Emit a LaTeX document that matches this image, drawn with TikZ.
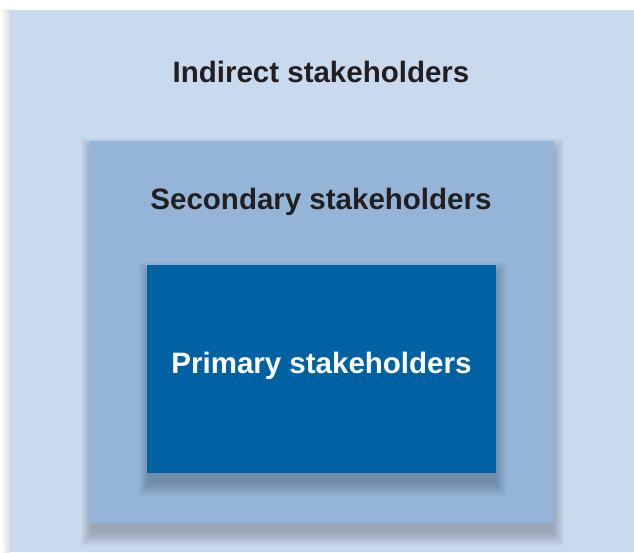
\documentclass[tikz,border=0pt]{standalone}
\usepackage{fontspec}
\setmainfont{Liberation Sans}
\usetikzlibrary{fit}
\definecolor{indirectblue}{HTML}{C9D9EE}
\definecolor{secondblue}{HTML}{94B4D8}
\definecolor{primeblue}{HTML}{0061A3}
\definecolor{labelgrey}{HTML}{231F20}
\tikzset{
  layerbox/.style={draw=none,inner sep=0pt},
  softshade/.style={black,opacity=0.015},
  layertext/.style={font=\fontsize{29.5}{32}\selectfont\bfseries,text=labelgrey}
}
\begin{document}
\begin{tikzpicture}[x=1pt,y=1pt]
		\useasboundingbox (0,0) rectangle (634,552);
		
		\shade[left color=white,right color=gray!22] (0,0) rectangle (9,542);
		\fill[indirectblue] (9,0) rectangle (634,542);
		
		\coordinate (secsw) at (89,29);
		\coordinate (secne) at (554,411);
		\coordinate (primsw) at (147,79);
		\coordinate (primne) at (496,287);
		
		% soft shadows, drawn before each box
		\foreach \r in {1,...,14}
			\fill[softshade] ([shift={(3-0.8*\r,-9-\r)}]secsw) rectangle ([shift={(-1+0.8*\r,-11+\r)}]secne);
		\node[layerbox,fill=secondblue,fit=(secsw)(secne)] (secondary) {};
		
		\foreach \r in {1,...,14}
			\fill[softshade] ([shift={(3-0.8*\r,-9-\r)}]primsw) rectangle ([shift={(-1+0.8*\r,-11+\r)}]primne);
		\node[layerbox,fill=primeblue,fit=(primsw)(primne)] (primary) {};
		
		\node[layertext] (indirectlbl) at (321,480) {Indirect stakeholders};
		\node[layertext] (secondarylbl) at (321,350) {Secondary stakeholders};
		\node[layertext,text=white] (primarylbl) at ([yshift=3pt]primary) {Primary stakeholders};
\end{tikzpicture}
\end{document}
